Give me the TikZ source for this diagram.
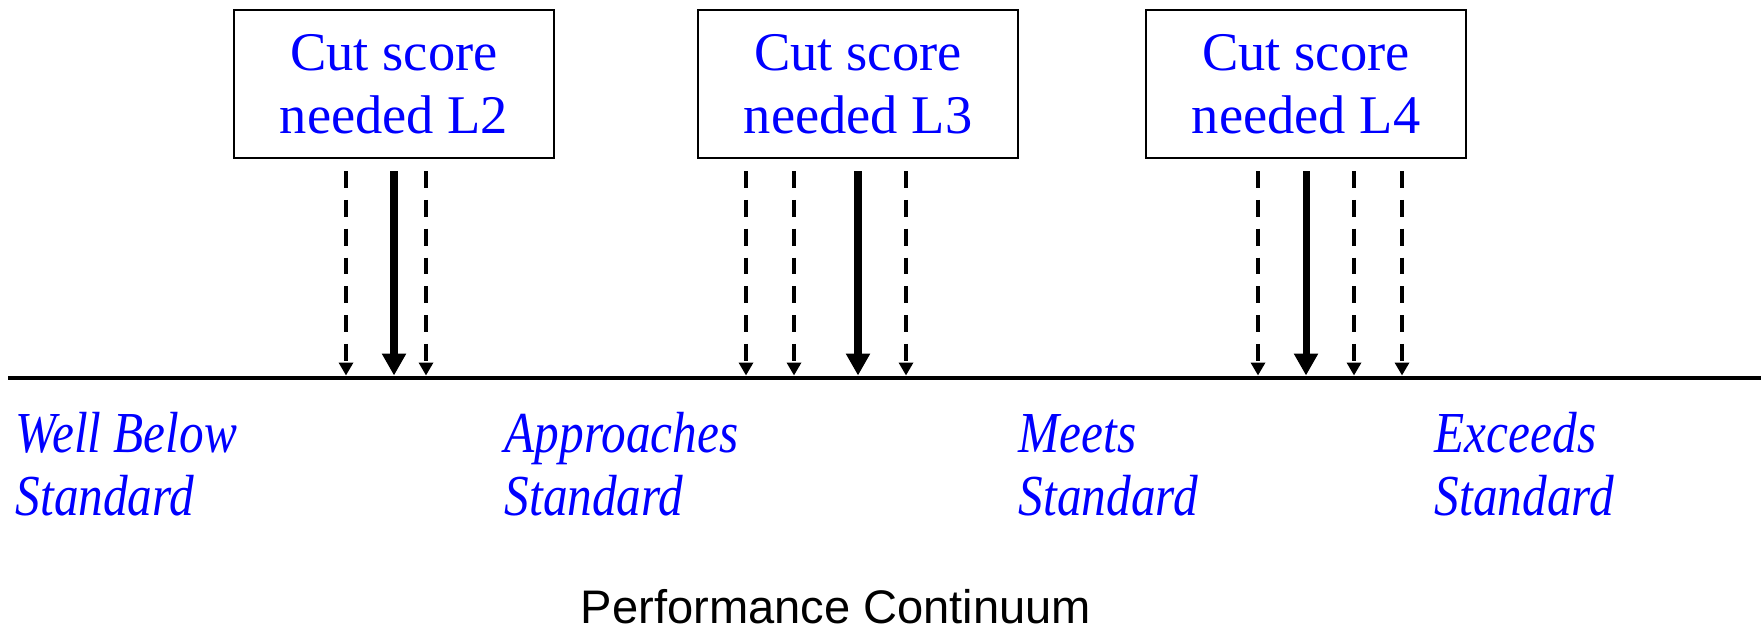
\documentclass[tikz,border=0pt]{standalone}
\usepackage{fontspec}
\setmainfont{Liberation Serif}
\newfontfamily\bandfont[FakeStretch=0.85]{Liberation Serif}
\newfontfamily\axisfont{Liberation Sans}
\usetikzlibrary{arrows.meta,calc}

\tikzset{
  cutbox/.style={draw, line width=0.6pt, minimum width=3.2cm, minimum height=1.48cm,
    align=center, text=blue, inner sep=0pt, font=\fontsize{15.5}{18}\selectfont},
  cutarrow/.style={line width=2pt, -{Triangle[width=0.23cm,length=0.22cm]}},
  bandarrow/.style={line width=1.1pt, dash pattern=on 4.8pt off 3.4pt,
    -{Triangle[width=0.14cm,length=0.13cm]}},
  levellabel/.style={anchor=north west, align=left, text=blue, inner sep=0pt,
    font=\bandfont\itshape\fontsize{16.5}{18}\selectfont},
}

\begin{document}
\begin{tikzpicture}
    \useasboundingbox (0,0) rectangle (17.61,6.31);

    % Performance line
    \coordinate (start) at (0.08,2.53);
    \coordinate (end) at (17.61,2.53);
    \coordinate (ax) at (0,2.555);
    \draw[line width=1.4pt] (start) -- (end);

    % Cut score boxes
    \node[cutbox] (l2) at (3.94,5.47) {Cut score\\needed L2};
    \node[cutbox] (l3) at (8.58,5.47) {Cut score\\needed L3};
    \node[cutbox] (l4) at (13.06,5.47) {Cut score\\needed L4};

    % Arrows for L2
    \draw[bandarrow] ($(l2.south)+(-0.48,-0.12)$) -- ($(l2.south |- ax)+(-0.48,0)$);
    \draw[cutarrow] ($(l2.south)+(0,-0.12)$) -- (l2.south |- ax);
    \draw[bandarrow] ($(l2.south)+(0.32,-0.12)$) -- ($(l2.south |- ax)+(0.32,0)$);

    % Arrows for L3
    \draw[bandarrow] ($(l3.south)+(-1.12,-0.12)$) -- ($(l3.south |- ax)+(-1.12,0)$);
    \draw[bandarrow] ($(l3.south)+(-0.64,-0.12)$) -- ($(l3.south |- ax)+(-0.64,0)$);
    \draw[cutarrow] ($(l3.south)+(0,-0.12)$) -- (l3.south |- ax);
    \draw[bandarrow] ($(l3.south)+(0.48,-0.12)$) -- ($(l3.south |- ax)+(0.48,0)$);

    % Arrows for L4
    \draw[bandarrow] ($(l4.south)+(-0.48,-0.12)$) -- ($(l4.south |- ax)+(-0.48,0)$);
    \draw[cutarrow] ($(l4.south)+(0,-0.12)$) -- (l4.south |- ax);
    \draw[bandarrow] ($(l4.south)+(0.48,-0.12)$) -- ($(l4.south |- ax)+(0.48,0)$);
    \draw[bandarrow] ($(l4.south)+(0.96,-0.12)$) -- ($(l4.south |- ax)+(0.96,0)$);

    % Level labels
    \node[levellabel] (wb) at (0.15,2.235) {\strut Well Below\\Standard};
    \node[levellabel] (ap) at (5.04,2.235) {\strut Approaches\\Standard};
    \node[levellabel] (me) at (10.18,2.235) {\strut Meets\\Standard};
    \node[levellabel] (ex) at (14.34,2.235) {\strut Exceeds\\Standard};

    % Caption
    \node[anchor=base, inner sep=0pt, font=\axisfont\fontsize{13.4}{16}\selectfont]
        (pc) at (8.36,0.08) {Performance Continuum};
\end{tikzpicture}
\end{document}
